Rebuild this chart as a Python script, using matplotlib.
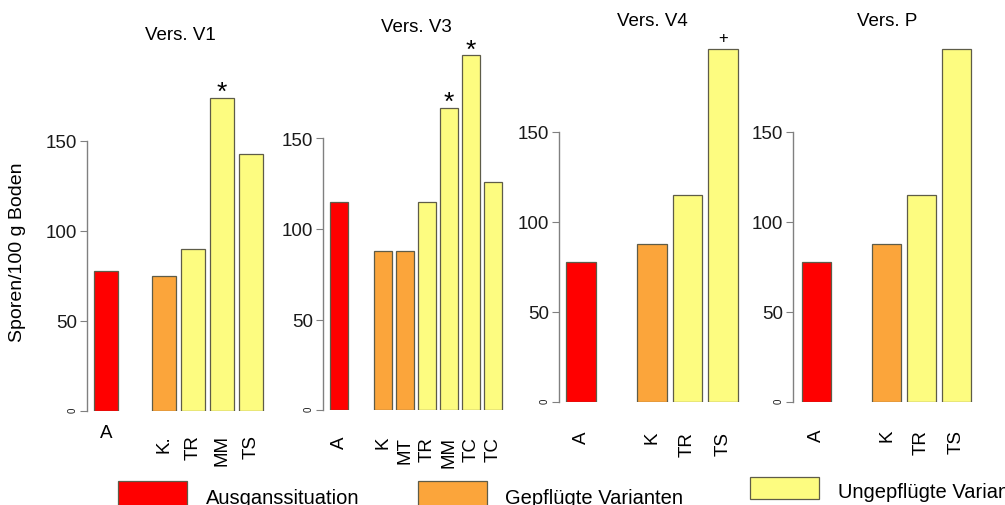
import numpy as np
import matplotlib
matplotlib.use("Agg")
import matplotlib.pyplot as plt
from matplotlib.patches import Rectangle

plt.rcParams['font.family'] = ['Liberation Sans', 'DejaVu Sans']

# Sporen/100 g Boden je Versuch; Gruppe 0 = Ausgang, 1 = gepflügt, 2 = ungepflügt
v1_labels = ["A", "K.", "TR", "MM", "TS"]
v1_values = [78, 75, 90, 174, 143]
v1_groups = [0, 1, 2, 2, 2]
v1_marks = ["", "", "", "*", ""]

v3_labels = ["A", "K", "MT", "TR", "MM", "TC", "TC"]
v3_values = [115, 88, 88, 115, 167, 196, 126]
v3_groups = [0, 1, 1, 2, 2, 2, 2]
v3_marks = ["", "", "", "", "*", "*", ""]

v4_labels = ["A", "K", "TR", "TS"]
v4_values = [78, 88, 115, 196]
v4_groups = [0, 1, 2, 2]
v4_marks = ["", "", "", "+"]

p_labels = ["A", "K", "TR", "TS"]
p_values = [78, 88, 115, 196]
p_groups = [0, 1, 2, 2]
p_marks = ["", "", "", ""]

group_names = ["Ausganssituation", "Gepflügte Varianten", "Ungepflügte Varianten"]
group_colors = ["#ff0000", "#fba53b", "#fdfc80"]

y_ticks = [0, 50, 100, 150]

W, H = 1005, 506
EDGE = "#5e5c48"
AXIS = "#808080"
mark_style = {"*": (19, -1.0), "+": (12, 5)}


def panel(fig, title, labels, values, groups, marks, axis_x, zero_y, scale,
          pitch, first_x, right, bar_w, label_top, title_xy, flat_first=False):
    top = 6
    ax = fig.add_axes([axis_x / W, 1 - zero_y / H,
                       (right - axis_x) / W, (zero_y - top) / H])
    pos = np.r_[0, np.arange(2, len(values) + 1)]
    ax.bar(pos, values, width=bar_w,
           color=[group_colors[g] for g in groups],
           edgecolor=EDGE, linewidth=0.9)
    ax.set_xlim((axis_x - first_x) / pitch, (right - first_x) / pitch)
    ax.set_ylim(0, (zero_y - top) / scale)

    for s in ["top", "right", "bottom"]:
        ax.spines[s].set_visible(False)
    ax.spines["left"].set_bounds(0, 150)
    ax.spines["left"].set_color(AXIS)
    ax.spines["left"].set_linewidth(1.0)
    ax.patch.set_visible(False)

    ax.set_yticks(y_ticks, [str(t) for t in y_ticks])
    ax.tick_params(axis="y", length=5, color=AXIS, labelsize=13.5,
                   pad=2, labelcolor="#1a1a1a")
    zero_lab = ax.get_yticklabels()[0]
    zero_lab.set_rotation(90)
    zero_lab.set_fontsize(7)
    ax.set_xticks([])

    # Beschriftung der Balken unterhalb der Achse
    pad = (label_top - zero_y) * 0.72
    for i, (p, lab) in enumerate(zip(pos, labels)):
        if flat_first and i == 0:
            ax.annotate(lab, (p, 0), xycoords=("data", "axes fraction"),
                        xytext=(0, -9.5), textcoords="offset points",
                        ha="center", va="top", fontsize=13.5)
        else:
            ax.annotate(lab, (p, 0), xycoords=("data", "axes fraction"),
                        xytext=(0, -pad), textcoords="offset points",
                        ha="center", va="top", rotation=90, fontsize=13.5)

    # Signifikanzzeichen über den Balken
    for p, v, m in zip(pos, values, marks):
        if m:
            size, off = mark_style[m]
            ax.annotate(m, (p, v), xytext=(0, off), textcoords="offset points",
                        ha="center", va="baseline", fontsize=size)

    fig.text(title_xy[0] / W, 1 - title_xy[1] / H, title,
             ha="center", va="center", fontsize=13.5)
    return ax


fig = plt.figure(figsize=(W / 100, H / 100), dpi=100)

panel(fig, "Vers. V1", v1_labels, v1_values, v1_groups, v1_marks,
      87, 412, 1.8, 29, 106, 275, 0.86, 435, (180, 35), flat_first=True)
panel(fig, "Vers. V3", v3_labels, v3_values, v3_groups, v3_marks,
      323, 411, 1.81, 22, 339, 510, 0.82, 437, (416, 28))
panel(fig, "Vers. V4", v4_labels, v4_values, v4_groups, v4_marks,
      559, 403, 1.8, 35.5, 581, 745, 0.845, 432, (652, 22))
panel(fig, "Vers. P", p_labels, p_values, p_groups, p_marks,
      793, 403, 1.8, 35, 816.5, 1000, 0.85, 430, (887, 22))

fig.text(18 / W, 1 - 252 / H, "Sporen/100 g Boden", rotation=90,
         ha="center", va="center", fontsize=14)

# Legende unten; der letzte Eintrag läuft über den rechten Rand
legend_boxes = [(118, 482, 69), (418, 482, 69), (750, 478, 69)]
legend_text_x = [206, 505, 838]
legend_base = [504, 504, 498]
for (x0, y0, w), name, col, tx, ty in zip(legend_boxes, group_names,
                                         group_colors, legend_text_x, legend_base):
    h = 22 if y0 < 480 else 30
    fig.add_artist(Rectangle((x0 / W, 1 - (y0 + h) / H), w / W, h / H,
                             transform=fig.transFigure, facecolor=col,
                             edgecolor=EDGE, linewidth=0.9))
    fig.text(tx / W, 1 - ty / H, name, ha="left", va="baseline", fontsize=14.5)

fig.savefig("out.png", dpi=100)
